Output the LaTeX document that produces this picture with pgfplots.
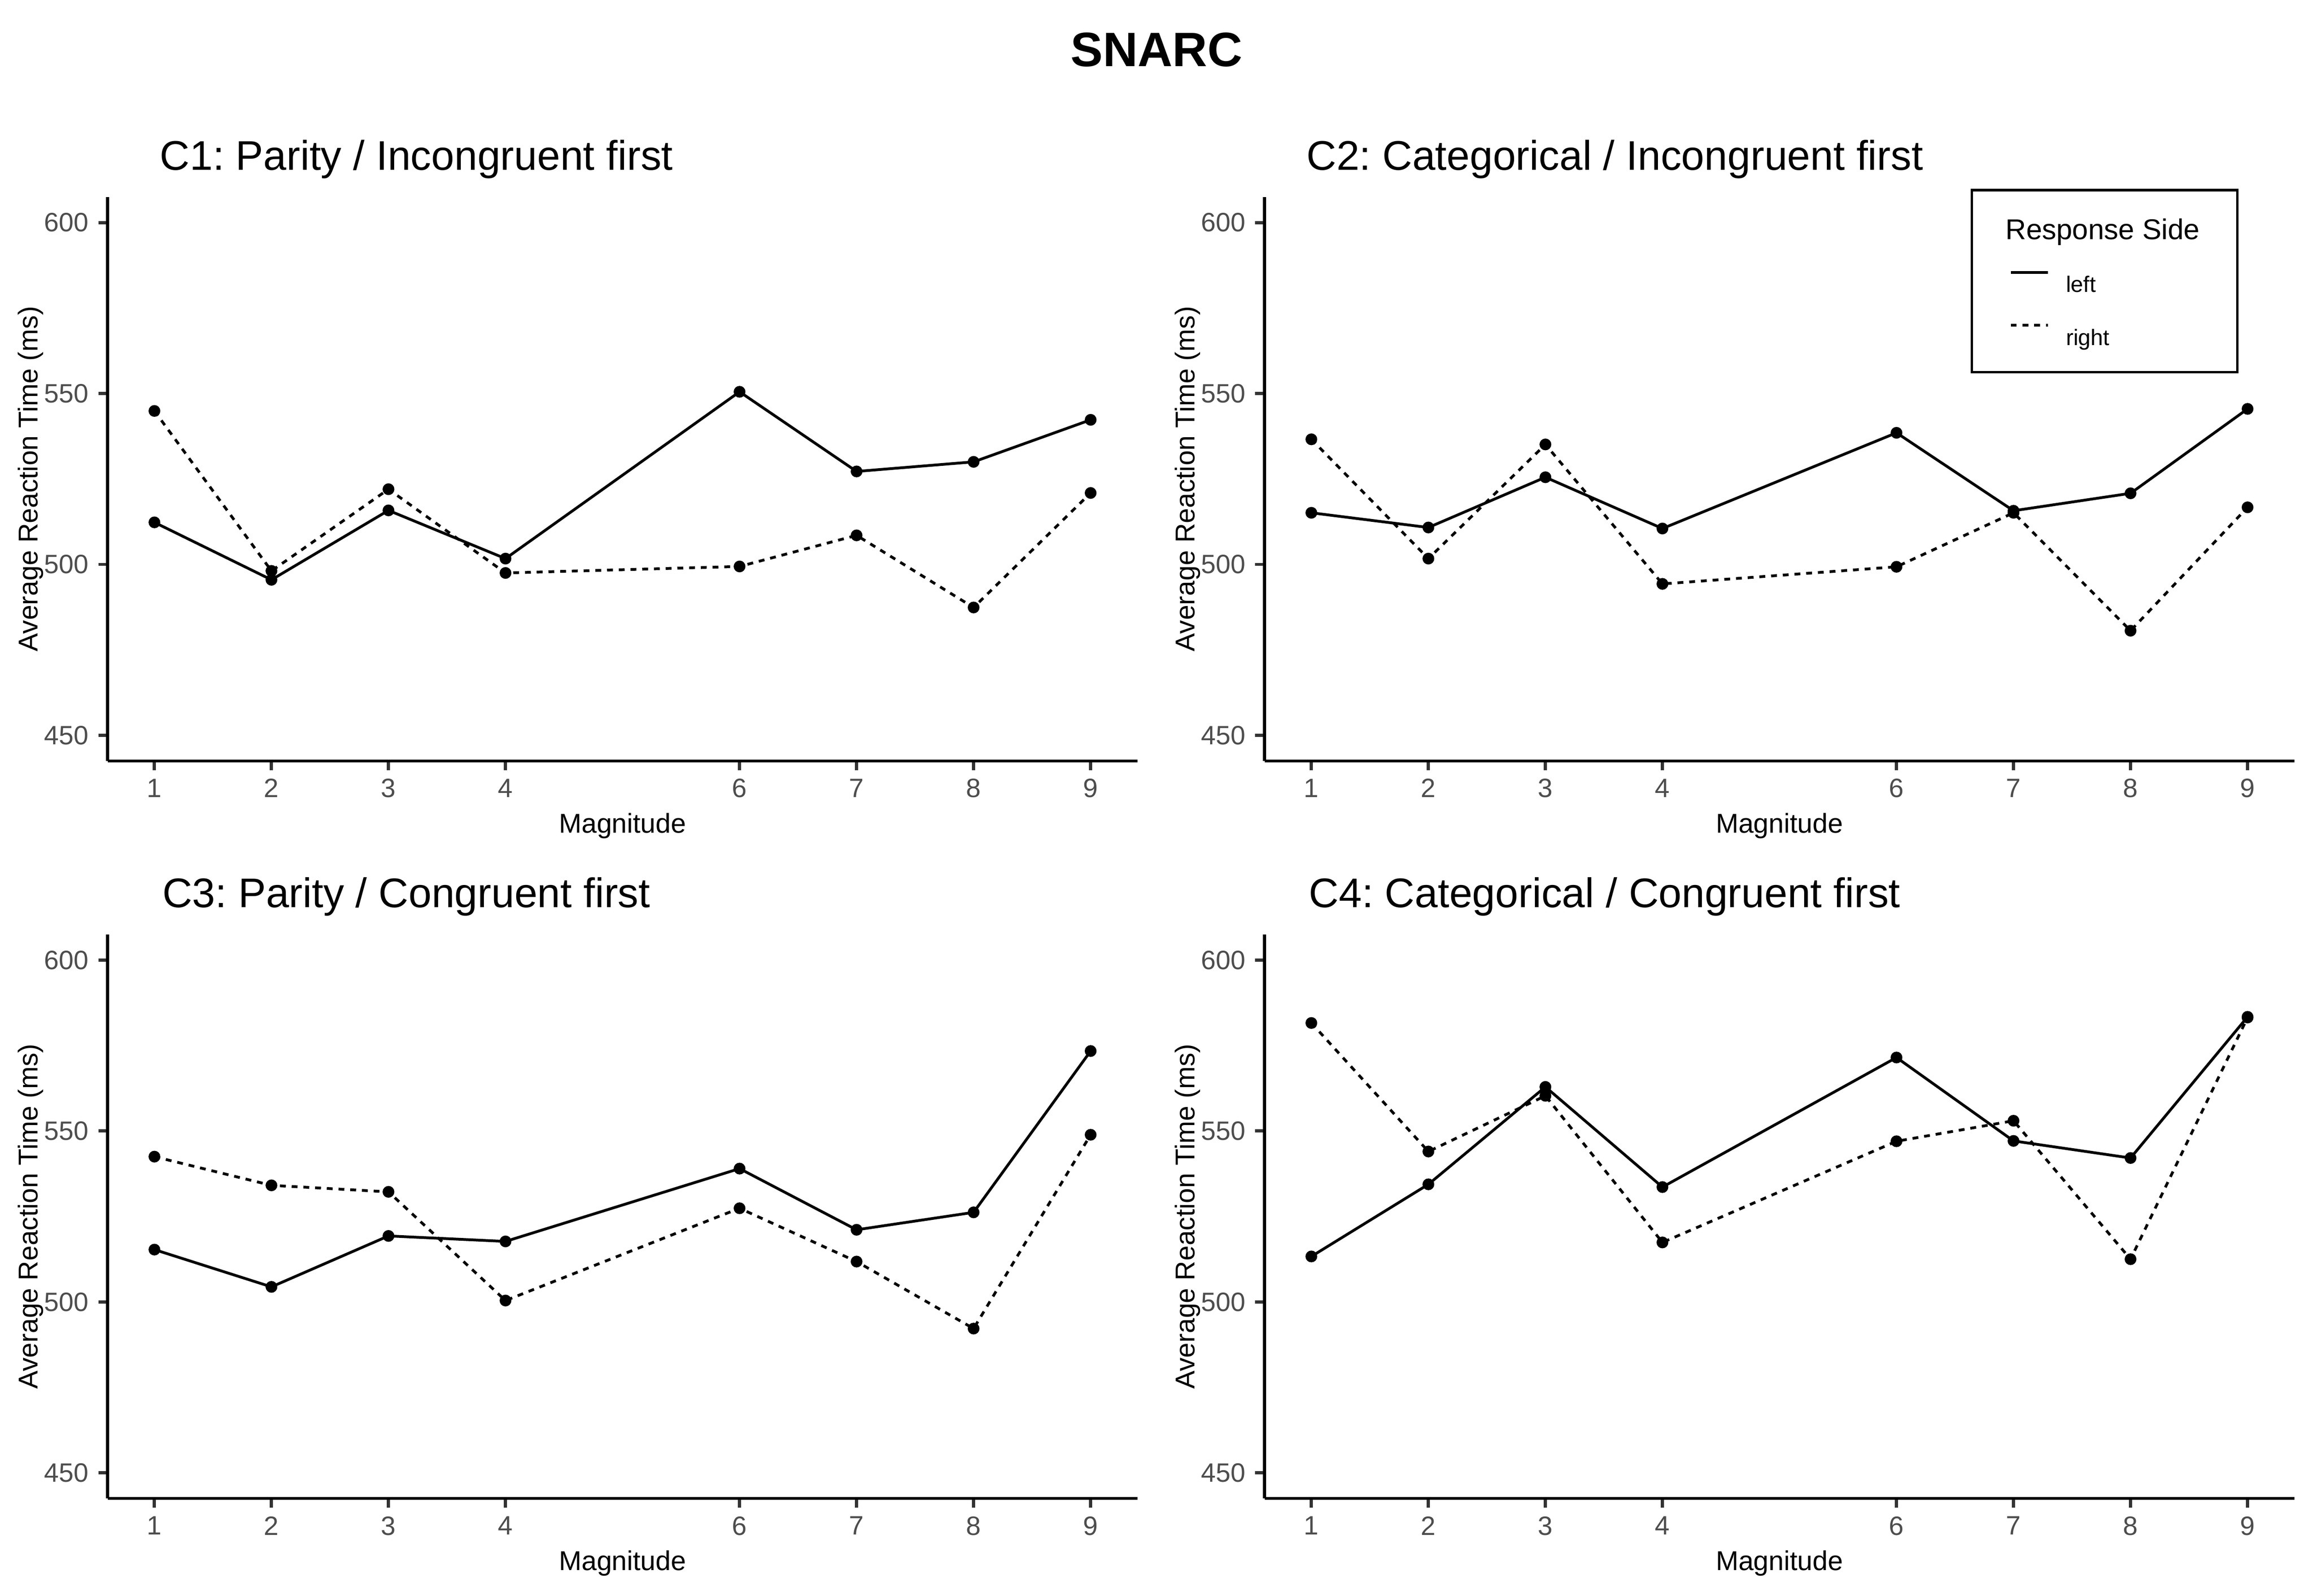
\documentclass[border=0pt]{standalone}
\usepackage{fontspec}
\setmainfont{Liberation Sans}
\usepackage{pgfplots}
\usepackage{pgfplotstable}
\pgfplotsset{compat=1.18}
\definecolor{gray30}{RGB}{77,77,77}
\definecolor{gray20}{RGB}{51,51,51}
\frenchspacing

\pgfplotstableread{
x left right
1 512.3 544.9
2 495.5 498.1
3 515.8 522.0
4 501.7 497.5
6 550.5 499.4
7 527.2 508.5
8 530.0 487.4
9 542.3 520.9
}\dataA
\pgfplotstableread{
x left right
1 515.1 536.6
2 510.8 501.7
3 525.5 535.1
4 510.5 494.3
6 538.5 499.3
7 515.7 515.1
8 520.8 480.6
9 545.5 516.7
}\dataB
\pgfplotstableread{
x left right
1 515.3 542.5
2 504.4 534.1
3 519.3 532.2
4 517.7 500.4
6 539.0 527.4
7 521.1 511.8
8 526.2 492.2
9 573.4 548.9
}\dataC
\pgfplotstableread{
x left right
1 513.3 581.6
2 534.4 544.0
3 562.9 560.3
4 533.6 517.4
6 571.5 547.0
7 547.1 553.0
8 542.1 512.5
9 583.4 583.2
}\dataD

\pgfplotsset{
  snarc/.style={
    scale only axis, width=298.56pt, height=163.5pt,
    xmin=0.6, xmax=9.4, ymin=442.5, ymax=607.5,
    xtick={1,2,3,4,6,7,8,9}, ytick={450,500,550,600},
    axis x line*=bottom, axis y line*=left,
    axis line style={-, line width=0.9pt, black},
    tick align=outside, major tick length=2.7pt,
    tick style={line width=0.9pt, color=gray20},
    minor tick num=0,
    /pgf/number format/assume math mode=true,
    ticklabel style={font=\fontsize{7.7}{8}\selectfont, text=gray30, inner sep=0pt},
    xticklabel style={yshift=-2.3pt},
    yticklabel style={xshift=-2.6pt},
    xlabel={Magnitude}, ylabel={Average Reaction Time (ms)},
    label style={font=\fontsize{7.9}{9}\selectfont, inner sep=0pt},
    xlabel style={at={(axis description cs:0.5,-0.12722)}, anchor=base},
    ylabel style={at={(axis description cs:-0.0677,0.5)}, anchor=base},
    every axis title shift=0pt,
    title style={font=\fontsize{12}{14}\selectfont, inner sep=0pt, anchor=base west},
    clip=false,
  },
  lft/.style={black, line width=0.8pt, mark=*, mark size=1.3pt},
  rgt/.style={black, line width=0.8pt, mark=*, mark size=1.3pt,
    dash pattern=on 1.7pt off 1.7pt, mark options={solid}},
}

\begin{document}
\begin{tikzpicture}
\useasboundingbox (0,0) rectangle (670.56pt,-462.6pt);
\node[anchor=base, font=\bfseries\fontsize{14}{16}\selectfont, inner sep=0pt]
  at (335.28pt,-19.2pt) {SNARC};

% C1
\begin{axis}[snarc, at={(31.2pt,-220.6pt)}, anchor=south west,
  title={C1: Parity / Incongruent first},
  title style={at={(axis description cs:0.05021,1.04801)}}]
\addplot[lft] table[x=x,y=left]{\dataA};
\addplot[rgt] table[x=x,y=right]{\dataA};
\end{axis}

% C2
\begin{axis}[snarc, at={(366.6pt,-220.6pt)}, anchor=south west,
  title={C2: Categorical / Incongruent first},
  title style={at={(axis description cs:0.04016,1.04801)}},
  legend style={at={(axis description cs:0.6856,1.0142)}, anchor=north west,
    draw=black, line width=0.7pt, inner xsep=10.9pt, inner ysep=3.375pt,
    row sep=0pt, font=\fontsize{6.5}{7}\selectfont,
    nodes={inner sep=0pt, text height=10.9pt, text depth=4.45pt},
    /tikz/every odd column/.append style={column sep=4.8pt}},
  legend cell align=left,
  legend image code/.code={\path (0pt,0pt); \draw[#1] (-0.6pt,2.6pt) -- (10.2pt,2.6pt);}]
\addlegendimage{empty legend}
\addlegendentry{\hspace*{-17.5pt}\fontsize{8.3}{9}\selectfont Response Side}
\addplot[lft] table[x=x,y=left]{\dataB};
\addlegendentry{left}
\addplot[rgt] table[x=x,y=right]{\dataB};
\addlegendentry{right}
\end{axis}

% C3
\begin{axis}[snarc, at={(31.2pt,-434.4pt)}, anchor=south west,
  title={C3: Parity / Congruent first},
  title style={at={(axis description cs:0.05265,1.04801)}}]
\addplot[lft] table[x=x,y=left]{\dataC};
\addplot[rgt] table[x=x,y=right]{\dataC};
\end{axis}

% C4
\begin{axis}[snarc, at={(366.6pt,-434.4pt)}, anchor=south west,
  title={C4: Categorical / Congruent first},
  title style={at={(axis description cs:0.04260,1.04801)}}]
\addplot[lft] table[x=x,y=left]{\dataD};
\addplot[rgt] table[x=x,y=right]{\dataD};
\end{axis}
\end{tikzpicture}
\end{document}
